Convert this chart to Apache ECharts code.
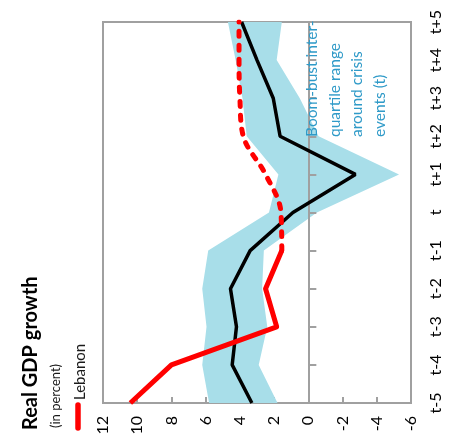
<!DOCTYPE html>
<html>
<head>
<meta charset="utf-8">
<title>Real GDP growth</title>
<script src="https://cdn.jsdelivr.net/npm/echarts@6/dist/echarts.min.js"></script>
<style>
    html, body { margin: 0; padding: 0; background: #fff; }
    #chart { width: 451px; height: 444px; }
</style>
</head>
<body>
<div id="chart"></div>
<script>
// 위기 시점(t) 전후 기간
const periods = ['t-5', 't-4', 't-3', 't-2', 't-1', 't', 't+1', 't+2', 't+3', 't+4', 't+5'];

// 레바논 실질 GDP 성장률 (t-1 이후는 점선 = 전망)
const lebanon = [10.4, 8.0, 1.85, 2.5, 1.55, 1.6, 2.5, 3.8, 4.0, 4.05, 4.05];
const lebanonDashFrom = 4;

// 붐-버스트 사례 중앙값 및 사분위 범위
const median = [3.3, 4.45, 4.2, 4.55, 3.4, 0.9, -2.75, 1.65, 2.05, 3.0, 3.9];
const bandLow = [1.8, 2.9, 2.4, 2.7, 2.6, -0.5, -5.3, -0.6, 0.5, 1.85, 1.55];
const bandHigh = [5.8, 6.2, 5.95, 6.2, 5.85, 2.3, 1.75, 3.6, 3.85, 4.25, 4.7];

// 값 축 범위
const valueMin = -6;
const valueMax = 12;
const valueStep = 2;

const AXIS_GRAY = '#a0a0a0';
const FONT = 'Lato';
const ROT = Math.PI / 2;

const chart = echarts.init(document.getElementById('chart'));

const solidPart = lebanon.map((v, i) => (i <= lebanonDashFrom ? v : '-'));
const dashedPart = lebanon.map((v, i) => (i >= lebanonDashFrom ? v : '-'));
const bandSpan = bandHigh.map((v, i) => +(v - bandLow[i]).toFixed(2));

const option = {
    animation: false,
    grid: {
        left: 103,
        right: 40,
        top: 22,
        bottom: 41,
        show: true,
        borderColor: AXIS_GRAY,
        borderWidth: 2,
        backgroundColor: 'transparent'
    },
    xAxis: {
        type: 'value',
        inverse: true,
        min: valueMin,
        max: valueMax,
        interval: valueStep,
        position: 'bottom',
        axisLine: { show: true, onZero: false, lineStyle: { color: AXIS_GRAY, width: 2 } },
        axisTick: { show: true, inside: true, length: 6, lineStyle: { color: AXIS_GRAY, width: 2 } },
        axisLabel: { rotate: 90, margin: 13, fontFamily: FONT, fontSize: 16, color: '#000' },
        splitLine: { show: false }
    },
    yAxis: [
        {
            // 0 기준선 + 눈금
            type: 'category',
            data: periods,
            boundaryGap: false,
            position: 'right',
            z: 1.5,
            axisLine: { show: true, onZero: true, lineStyle: { color: AXIS_GRAY, width: 2 } },
            axisTick: { show: true, length: 8, lineStyle: { color: AXIS_GRAY, width: 2 } },
            axisLabel: { show: false },
            splitLine: { show: false }
        },
        {
            // 오른쪽 기간 라벨
            type: 'category',
            data: periods,
            boundaryGap: false,
            position: 'right',
            axisLine: { show: false, onZero: false },
            axisTick: { show: false },
            axisLabel: { rotate: 90, margin: 17, fontFamily: FONT, fontSize: 16, color: '#000' },
            splitLine: { show: false }
        }
    ],
    series: [
        {
            name: 'bandLow',
            type: 'line',
            yAxisIndex: 0,
            stack: 'band',
            stackStrategy: 'all',
            data: bandLow,
            symbol: 'none',
            lineStyle: { opacity: 0 },
            z: 1
        },
        {
            name: 'bandSpan',
            type: 'line',
            yAxisIndex: 0,
            stack: 'band',
            stackStrategy: 'all',
            data: bandSpan,
            symbol: 'none',
            lineStyle: { opacity: 0 },
            areaStyle: { color: '#a8dee9', opacity: 1 },
            z: 1
        },
        {
            name: 'Median',
            type: 'line',
            yAxisIndex: 0,
            data: median,
            symbol: 'none',
            lineStyle: { color: '#000', width: 3.5 },
            z: 3
        },
        {
            name: 'Lebanon',
            type: 'line',
            yAxisIndex: 0,
            data: solidPart,
            symbol: 'none',
            lineStyle: { color: '#ff0000', width: 5, join: 'round' },
            z: 4
        },
        {
            name: 'Lebanon (projection)',
            type: 'line',
            yAxisIndex: 0,
            data: dashedPart,
            symbol: 'none',
            smooth: 0.35,
            lineStyle: { color: '#ff0000', width: 5, type: [5, 9], cap: 'round' },
            z: 4
        }
    ],
    graphic: [
        {
            type: 'text', x: 31, y: 430, rotation: ROT,
            style: { text: 'Real GDP growth', font: 'bold 20px ' + FONT, fill: '#000', align: 'left', verticalAlign: 'middle' }
        },
        {
            type: 'text', x: 56, y: 428, rotation: ROT,
            style: { text: '(in percent)', font: '13px ' + FONT, fill: '#1a1a1a', align: 'left', verticalAlign: 'middle' }
        },
        {
            type: 'line',
            shape: { x1: 78, y1: 428, x2: 78, y2: 405 },
            style: { stroke: '#ff0000', lineWidth: 5.5, lineCap: 'round' }
        },
        {
            type: 'text', x: 80, y: 400, rotation: ROT,
            style: { text: 'Lebanon', font: '15px ' + FONT, fill: '#1a1a1a', align: 'left', verticalAlign: 'middle' }
        },
        {
            type: 'text', x: 301, y: 137, rotation: ROT, z: 10,
            style: {
                text: 'Boom-bust inter-\nquartile range\naround crisis\nevents (t)',
                font: '15.5px ' + FONT,
                fill: '#2f9ac8',
                align: 'left',
                verticalAlign: 'top',
                lineHeight: 22.5
            }
        }
    ]
};

chart.setOption(option);
</script>
</body>
</html>
